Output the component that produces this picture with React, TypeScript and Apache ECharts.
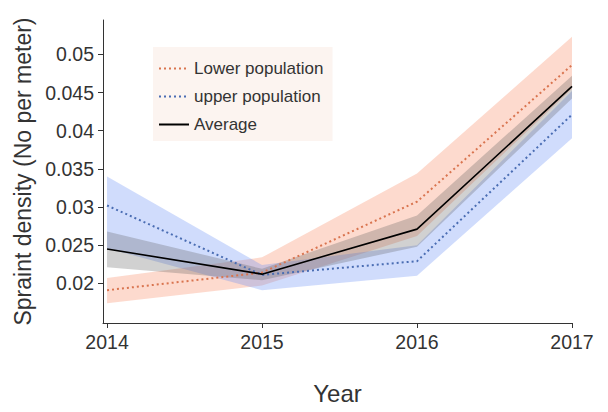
import React, { useEffect, useRef } from "react";
import * as echarts from "echarts";

const years = [2014, 2015, 2016, 2017];
const xTicks = [2014, 2015, 2016, 2017];
const yTicks = [0.02, 0.025, 0.03, 0.035, 0.04, 0.045, 0.05];

const lowerMean = [0.0191, 0.0214, 0.0307, 0.0486];
const lowerLo = [0.0174, 0.0197, 0.0262, 0.0455];
const lowerHi = [0.0207, 0.0234, 0.0344, 0.0523];

const upperMean = [0.0302, 0.0211, 0.0229, 0.0421];
const upperLo = [0.0246, 0.0191, 0.021, 0.039];
const upperHi = [0.034, 0.0224, 0.025, 0.0452];

const avgMean = [0.0245, 0.0212, 0.0271, 0.0458];
const avgLo = [0.0221, 0.0204, 0.0248, 0.0442];
const avgHi = [0.0268, 0.0219, 0.0289, 0.0472];

const pairs = (vals: number[]) => years.map((y, i) => [y, vals[i]]);

function band(name: string, lo: number[], hi: number[], color: string) {
  return {
    name,
    type: "custom",
    silent: true,
    z: 1,
    data: years.map((y, i) => [y, lo[i], hi[i]]),
    encode: { x: 0, y: [1, 2] },
    renderItem: (params: any, api: any) => {
      if (params.dataIndex !== 0) return null;
      const top = years.map((y, i) => api.coord([y, hi[i]]));
      const bottom = years.map((y, i) => api.coord([y, lo[i]])).reverse();
      return {
        type: "polygon",
        shape: { points: [...top, ...bottom] },
        style: { fill: color, stroke: "none" },
      };
    },
  };
}

export default function App() {
  const ref = useRef<HTMLDivElement>(null);
  useEffect(() => {
    document.body.style.margin = "0";
    const chart = echarts.init(ref.current!, undefined, { renderer: "svg" });
    const font = "'Liberation Sans', Arial, sans-serif";
    chart.setOption({
      animation: false,
      backgroundColor: "#ffffff",
      grid: { left: 103, right: 36, top: 20, bottom: 89 },
      legend: {
        data: ["Lower population", "upper population", "Average"],
        orient: "vertical",
        left: 153,
        top: 47,
        padding: [13, 9, 8, 5],
        backgroundColor: "rgba(250,236,230,0.6)",
        itemWidth: 30,
        itemHeight: 14,
        itemGap: 11,
        itemStyle: { opacity: 0 },
        textStyle: { fontFamily: font, fontSize: 17, color: "#333" },
      },
      xAxis: {
        type: "value",
        min: 2013.974,
        max: 2017,
        name: "Year",
        nameLocation: "middle",
        nameGap: 58,
        nameTextStyle: { fontFamily: font, fontSize: 24, color: "#333" },
        splitLine: { show: false },
        axisLine: { show: true, lineStyle: { color: "#333", width: 1 } },
        axisTick: { show: true, customValues: xTicks, length: 5, lineStyle: { color: "#333" } },
        axisLabel: {
          customValues: xTicks,
          fontFamily: font,
          fontSize: 19.5,
          color: "#333",
          margin: 9,
          formatter: (v: number) => String(Math.round(v)),
        },
      },
      yAxis: {
        type: "value",
        min: 0.0148,
        max: 0.0545,
        name: "Spraint density (No per meter)",
        nameLocation: "middle",
        nameGap: 52,
        nameRotate: 90,
        nameTextStyle: { fontFamily: font, fontSize: 23, color: "#333" },
        splitLine: { show: false },
        axisLine: { show: true, lineStyle: { color: "#333", width: 1 } },
        axisTick: { show: true, customValues: yTicks, length: 5, lineStyle: { color: "#333" } },
        axisLabel: {
          customValues: yTicks,
          fontFamily: font,
          fontSize: 19.5,
          color: "#333",
          margin: 9,
          formatter: (v: number) => String(parseFloat(v.toFixed(4))),
        },
      },
      series: [
        band("lowerBand", lowerLo, lowerHi, "rgba(250,150,115,0.35)"),
        band("upperBand", upperLo, upperHi, "rgba(100,140,245,0.3)"),
        band("avgBand", avgLo, avgHi, "rgba(90,90,90,0.28)"),
        {
          name: "Lower population",
          type: "line",
          z: 3,
          data: pairs(lowerMean),
          symbol: "none",
          itemStyle: { color: "#d9744f" },
          lineStyle: { color: "#d9744f", width: 2, type: [2, 3] },
        },
        {
          name: "upper population",
          type: "line",
          z: 3,
          data: pairs(upperMean),
          symbol: "none",
          itemStyle: { color: "#4a6db3" },
          lineStyle: { color: "#4a6db3", width: 2, type: [2, 3] },
        },
        {
          name: "Average",
          type: "line",
          z: 3,
          data: pairs(avgMean),
          symbol: "none",
          itemStyle: { color: "#000" },
          lineStyle: { color: "#000", width: 1.6 },
        },
      ],
    });
    return () => chart.dispose();
  }, []);
  return <div ref={ref} style={{ width: 608, height: 412 }} />;
}
